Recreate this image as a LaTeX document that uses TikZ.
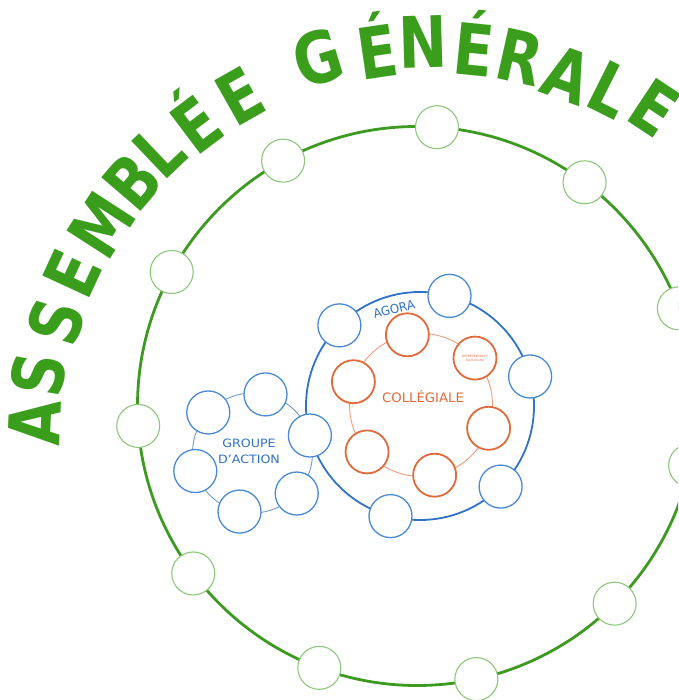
\documentclass[tikz,border=0pt]{standalone}
\usepackage{fontspec}
\setmainfont{DejaVu Sans}
\usetikzlibrary{calc}
\definecolor{gtitle}{HTML}{3A9E1C}
\definecolor{gring}{HTML}{3C9A20}
\definecolor{gnodeb}{HTML}{8CC87A}
\definecolor{bring}{HTML}{2F72C6}
\definecolor{bnodeb}{HTML}{4A8AD4}
\definecolor{bthin}{HTML}{6E9BD6}
\definecolor{oring}{HTML}{E06A3A}
\definecolor{othin}{HTML}{EC9C7A}
\tikzset{
  greenring/.style={draw=gring, line width=2.8pt},
  gnode/.style={circle, draw=gnodeb, line width=1.1pt, fill=white, minimum size=43pt, inner sep=0pt},
  bnode/.style={circle, draw=bnodeb, line width=1.3pt, fill=white, minimum size=43pt, inner sep=0pt},
  onode/.style={circle, draw=oring, line width=1.8pt, fill=white, minimum size=43pt, inner sep=0pt},
  agoraring/.style={draw=bring, line width=1.8pt},
  gdaring/.style={draw=bthin, line width=0.9pt},
  colring/.style={draw=othin, line width=0.9pt},
  titlechar/.style={text=gtitle, inner sep=0pt, font=\fontsize{71}{71}\selectfont\bfseries},
  blabel/.style={text=bring, inner sep=0pt},
  olabel/.style={text=oring, inner sep=0pt}
}
\begin{document}
\begin{tikzpicture}[x=1pt,y=1pt]
\useasboundingbox (0,0) rectangle (678,700);
\clip (0,0) rectangle (678,700);
% centres
\coordinate (G) at (417,294);
\coordinate (T) at (434.5,259.5);
\coordinate (A) at (420,294);
\coordinate (O) at (421,295);
\coordinate (D) at (252.5,247);
% green assembly ring
\draw[greenring] (G) circle[radius=279.5pt];
\foreach \i in {0,...,10}
  \node[gnode] (g\i) at ($(G)+({85.9-32.727*\i}:279.5)$) {};
% title
\foreach \ch/\ang/\rad [count=\k] in {A/177.5/400, S/170.6/402, S/162.6/397, E/155.2/399, M/147.1/397, B/139.4/398, L/133.6/400, É/127.0/395, E/119.5/396, G/106.9/400, É/98.3/393, N/91.7/399, É/84.2/393, R/77.4/393, A/70.0/389, L/63.4/393, E/56.5/399}
  \node[titlechar, rotate={\ang-90}, anchor=base] (t\k) at ($(T)+(\ang:{\rad-26})$) {\scalebox{0.82}[1]{\ch}};
% rings
\draw[gdaring] (D) circle[radius=60pt];
\draw[agoraring] (A) circle[radius=114pt];
\draw[colring] (O) circle[radius=71.5pt];
% agora nodes
\foreach \a [count=\k] in {135,75,15,-45,-105,-165}
  \node[bnode] (a\k) at ($(A)+(\a:114)$) {};
% groupe d'action nodes (the one at 17.5 deg is agora node a6)
\foreach \a [count=\k] in {137.5,77.5,-42.5,-102.5,-162.5}
  \node[bnode] (d\k) at ($(D)+(\a:60)$) {};
% collegiale nodes
\foreach \a [count=\k] in {161,101,-19,-79,-139}
  \node[onode] (c\k) at ($(O)+(\a:71.5)$) {};
\node[onode, text=oring, align=center, font=\fontsize{3}{3.6}\selectfont] (c6) at ($(O)+(41:71.5)$) {REPRÉSENTANTS\\ÉLUS EN AG};
% labels
\node[blabel, rotate=13.7, font=\fontsize{12.5}{12.5}\selectfont] (agora) at (394,391) {\scalebox{0.95}[1]{AGORA}};
\node[olabel, font=\fontsize{13}{13}\selectfont] (coll) at (423,303) {\scalebox{1.02}[1]{COLLÉGIALE}};
\node[blabel, font=\fontsize{11.5}{11.5}\selectfont] (gda1) at (249,257) {\scalebox{1.1}[1]{GROUPE}};
\node[blabel, font=\fontsize{11.5}{11.5}\selectfont] (gda2) at (249,241) {\scalebox{1.1}[1]{D'ACTION}};
\end{tikzpicture}
\end{document}
